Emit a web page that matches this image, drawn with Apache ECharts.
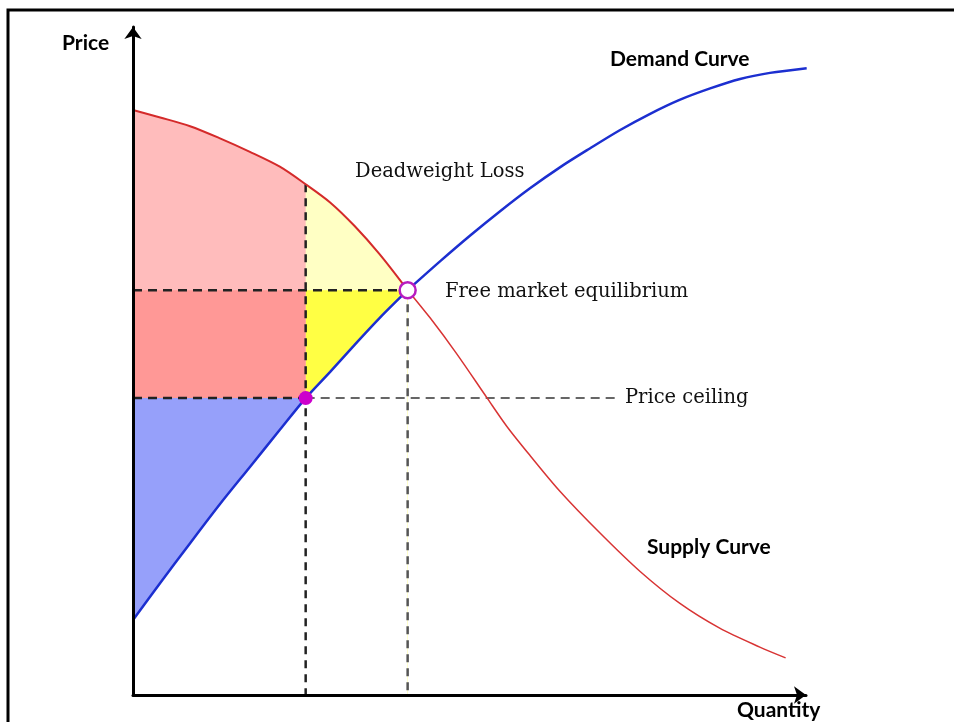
<!DOCTYPE html>
<html>
<head>
<meta charset="utf-8">
<script src="https://cdn.jsdelivr.net/npm/echarts@6/dist/echarts.min.js"></script>
<style>
html,body{margin:0;padding:0;background:#fff;}
#chart{width:954px;height:722px;}
</style>
</head>
<body>
<div id="chart"></div>
<script>
// red curve (labelled "Supply Curve" in the original)
var redQ = [0, 4, 8.4, 12.8, 17.2, 21.6, 25.4, 29, 32.6, 36.3, 40.4, 43.7, 47.6, 52.1, 55, 58.4, 62.8, 68.7, 74.6, 80.4, 86.3, 92.2, 96];
var redP = [86.7, 85.6, 84.3, 82.5, 80.5, 78.3, 75.7, 73, 69.5, 65.3, 60, 55.9, 50.6, 44, 39.8, 35.5, 30.2, 24, 18.3, 13.6, 9.9, 7.1, 5.5];
// blue curve (labelled "Demand Curve")
var blueQ = [0, 4, 8.4, 12.8, 17.2, 21.6, 25.4, 29, 32.6, 36.3, 40.4, 45.2, 49.6, 54, 58.4, 62.8, 67.2, 71.6, 76, 80.4, 84.9, 89.3, 93.7, 99.1];
var blueP = [11.1, 16.6, 22.5, 28.3, 33.8, 39.3, 44, 47.9, 51.9, 55.9, 60, 64.3, 68.1, 71.7, 75.1, 78.2, 81, 83.7, 86.1, 88.2, 89.9, 91.3, 92.2, 92.9];
// equilibrium and price ceiling
var qe = 40.4, pe = 60;
var qc = 25.4, pc = 44;
var ceilingLineEnd = 70.9;

var red = redQ.map(function (q, i) { return [q, redP[i]]; });
var blue = blueQ.map(function (q, i) { return [q, blueP[i]]; });
var iRed = redQ.indexOf(qe), iBlue = blueQ.indexOf(qe), iRedC = redQ.indexOf(qc);

var rects = [[qc, 0, qe, pe], [0, pc, qc, pe], [0, 0, qc, pc]];
var rectFills = ['#ffff44', '#ff9896', '#96a0fa'];

var chart = echarts.init(document.getElementById('chart'));

function dashed(data, color, width, dash, z) {
  return {
    type: 'line', data: data, symbol: 'none', z: z || 6, silent: true,
    lineStyle: { color: color, width: width, type: dash }
  };
}
function curve(data, color, width, z) {
  return {
    type: 'line', data: data, smooth: 0.3, symbol: 'none', z: z, silent: true,
    lineStyle: { color: color, width: width }
  };
}
function fill(data, color, z) {
  return {
    type: 'line', data: data, smooth: 0.3, symbol: 'none', z: z, silent: true,
    lineStyle: { width: 0 }, areaStyle: { color: color, opacity: 1 }
  };
}

var serif = '19.5px "DejaVu Serif"';
var bold = 'bold 21px Lato';
var axisStyle = {
  type: 'value', min: 0, max: 99, z: 10,
  axisLine: { lineStyle: { color: '#000', width: 3 }, symbol: ['none', 'arrow'], symbolSize: [13, 12] },
  axisTick: { show: false }, axisLabel: { show: false }, splitLine: { show: false }
};

var option = {
  animation: false,
  grid: { left: 133, right: 148, top: 27, bottom: 27 },
  xAxis: axisStyle,
  yAxis: axisStyle,
  series: [
    // fill under red curve up to equilibrium (yellow), then up to the ceiling quantity (pink)
    fill(red.slice(0, iRed + 1), '#ffffc4', 1),
    fill(red.slice(0, iRedC + 1), '#ffbcbc', 1),
    // surplus rectangles
    {
      type: 'custom', coordinateSystem: 'cartesian2d', z: 2, data: rects, encode: { x: [0, 2], y: [1, 3] },
      renderItem: function (params, api) {
        var a = api.coord([api.value(0), api.value(3)]);
        var b = api.coord([api.value(2), api.value(1)]);
        return {
          type: 'rect',
          shape: { x: a[0], y: a[1], width: b[0] - a[0], height: b[1] - a[1] },
          style: { fill: rectFills[params.dataIndex] }
        };
      }
    },
    // white under blue curve
    fill(blue.slice(0, iBlue + 1), '#fff', 3),
    // curves
    curve(red.slice(0, iRed + 1), '#d42a2a', 2, 5),
    curve(red.slice(iRed), '#d83434', 1.5, 5),
    curve(blue.slice(0, iBlue + 1), '#1c2fd0', 2.5, 5),
    curve(blue.slice(iBlue), '#1c2fd0', 2.5, 5),
    // guide lines
    dashed([[0, pe], [qe, pe]], '#222', 2.5, [9, 6], 4),
    dashed([[0, pc], [qc, pc]], '#222', 2.5, [9, 6], 4),
    dashed([[qc, pc], [ceilingLineEnd, pc]], '#666', 2, [9, 6], 4),
    dashed([[qc, redP[iRedC]], [qc, 0]], '#222', 2.5, [8, 6], 4),
    dashed([[qe, pe], [qe, 0]], '#555', 2.5, [8, 6], 4),
    // points
    {
      type: 'scatter', z: 8, data: [[qc, pc]], symbolSize: 14, silent: true,
      itemStyle: { color: '#cc00cc', opacity: 1 }
    },
    {
      type: 'scatter', z: 8, data: [[qe, pe]], symbolSize: 16, silent: true,
      itemStyle: { color: '#fff', borderColor: '#b81cc0', borderWidth: 2.5, opacity: 1 }
    }
  ],
  graphic: [
    { type: 'rect', shape: { x: 8, y: 10, width: 970, height: 740 }, style: { fill: 'none', stroke: '#000', lineWidth: 3 }, z: 100 },
    { type: 'text', style: { x: 62, y: 43, text: 'Price', font: bold, fill: '#000', verticalAlign: 'middle' } },
    { type: 'text', style: { x: 737, y: 710, text: 'Quantity', font: bold, fill: '#000', verticalAlign: 'middle' } },
    { type: 'text', style: { x: 610, y: 59, text: 'Demand Curve', font: bold, fill: '#000', verticalAlign: 'middle' } },
    { type: 'text', style: { x: 647, y: 547, text: 'Supply Curve', font: bold, fill: '#000', verticalAlign: 'middle' } },
    { type: 'text', style: { x: 355, y: 172, text: 'Deadweight Loss', font: serif, fill: '#111', verticalAlign: 'middle' } },
    { type: 'text', style: { x: 445, y: 292, text: 'Free market equilibrium', font: serif, fill: '#111', verticalAlign: 'middle' } },
    { type: 'text', style: { x: 625, y: 398, text: 'Price ceiling', font: serif, fill: '#111', verticalAlign: 'middle' } }
  ]
};
chart.setOption(option);
</script>
</body>
</html>
